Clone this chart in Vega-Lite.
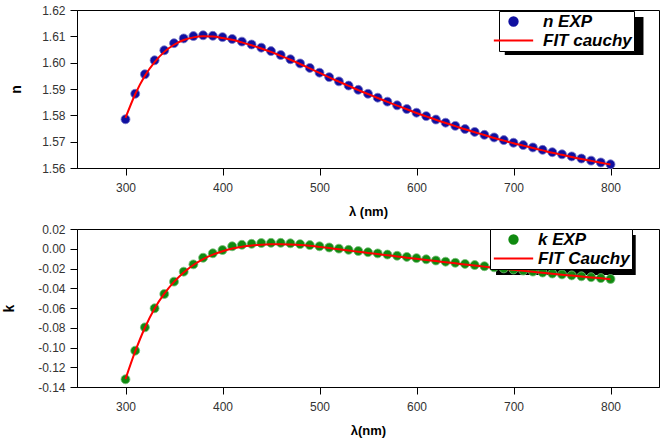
{
  "$schema": "https://vega.github.io/schema/vega-lite/v6.json",
  "background": "white",
  "padding": {"left": 1, "top": 3, "right": 2, "bottom": 2},
  "spacing": 3,
  "config": {
    "font": "Liberation Sans",
    "view": {"stroke": "#000", "strokeWidth": 1},
    "axis": {
      "grid": false,
      "domainColor": "#000",
      "tickColor": "#000",
      "tickSize": 7,
      "labelFont": "Liberation Sans",
      "labelFontSize": 12,
      "labelColor": "#333",
      "labelPadding": 5,
      "labelOverlap": false,
      "titleFont": "Liberation Sans",
      "titleFontSize": 14,
      "titleFontWeight": "bold",
      "titleColor": "#000"
    },
    "axisX": {"labelPadding": 7, "titlePadding": 12},
    "legend": {
      "labelFont": "Liberation Sans",
      "labelFontSize": 17,
      "labelFontStyle": "italic",
      "labelFontWeight": "bold",
      "labelColor": "#000",
      "fillColor": "white",
      "strokeColor": "#000",
      "padding": 2,
      "rowPadding": 1,
      "symbolSize": 70
    }
  },
  "resolve": {"scale": {"color": "independent", "y": "independent"}, "legend": {"color": "independent"}},
  "vconcat": [
    {
      "width": 582,
      "height": 158,
      "data": {"values": [
        {"lambda": 300, "n EXP": 1.5785, "FIT cauchy": 1.5790},
        {"lambda": 310, "n EXP": 1.5882, "FIT cauchy": 1.5880},
        {"lambda": 320, "n EXP": 1.5956, "FIT cauchy": 1.5950},
        {"lambda": 330, "n EXP": 1.6009, "FIT cauchy": 1.6002},
        {"lambda": 340, "n EXP": 1.6047, "FIT cauchy": 1.6041},
        {"lambda": 350, "n EXP": 1.6074, "FIT cauchy": 1.6068},
        {"lambda": 360, "n EXP": 1.6092, "FIT cauchy": 1.6086},
        {"lambda": 370, "n EXP": 1.6101, "FIT cauchy": 1.6096},
        {"lambda": 380, "n EXP": 1.6104, "FIT cauchy": 1.6100},
        {"lambda": 390, "n EXP": 1.6102, "FIT cauchy": 1.6099},
        {"lambda": 400, "n EXP": 1.6097, "FIT cauchy": 1.6094},
        {"lambda": 410, "n EXP": 1.6090, "FIT cauchy": 1.6087},
        {"lambda": 420, "n EXP": 1.6080, "FIT cauchy": 1.6077},
        {"lambda": 430, "n EXP": 1.6069, "FIT cauchy": 1.6066},
        {"lambda": 440, "n EXP": 1.6057, "FIT cauchy": 1.6054},
        {"lambda": 450, "n EXP": 1.6044, "FIT cauchy": 1.6041},
        {"lambda": 460, "n EXP": 1.6029, "FIT cauchy": 1.6026},
        {"lambda": 470, "n EXP": 1.6013, "FIT cauchy": 1.6011},
        {"lambda": 480, "n EXP": 1.5997, "FIT cauchy": 1.5995},
        {"lambda": 490, "n EXP": 1.5980, "FIT cauchy": 1.5978},
        {"lambda": 500, "n EXP": 1.5962, "FIT cauchy": 1.5961},
        {"lambda": 510, "n EXP": 1.5945, "FIT cauchy": 1.5944},
        {"lambda": 520, "n EXP": 1.5929, "FIT cauchy": 1.5928},
        {"lambda": 530, "n EXP": 1.5913, "FIT cauchy": 1.5912},
        {"lambda": 540, "n EXP": 1.5897, "FIT cauchy": 1.5896},
        {"lambda": 550, "n EXP": 1.5882, "FIT cauchy": 1.5881},
        {"lambda": 560, "n EXP": 1.5867, "FIT cauchy": 1.5866},
        {"lambda": 570, "n EXP": 1.5852, "FIT cauchy": 1.5851},
        {"lambda": 580, "n EXP": 1.5838, "FIT cauchy": 1.5837},
        {"lambda": 590, "n EXP": 1.5824, "FIT cauchy": 1.5823},
        {"lambda": 600, "n EXP": 1.5810, "FIT cauchy": 1.5809},
        {"lambda": 610, "n EXP": 1.5797, "FIT cauchy": 1.5796},
        {"lambda": 620, "n EXP": 1.5784, "FIT cauchy": 1.5783},
        {"lambda": 630, "n EXP": 1.5772, "FIT cauchy": 1.5771},
        {"lambda": 640, "n EXP": 1.5760, "FIT cauchy": 1.5759},
        {"lambda": 650, "n EXP": 1.5748, "FIT cauchy": 1.5747},
        {"lambda": 660, "n EXP": 1.5737, "FIT cauchy": 1.5736},
        {"lambda": 670, "n EXP": 1.5726, "FIT cauchy": 1.5725},
        {"lambda": 680, "n EXP": 1.5716, "FIT cauchy": 1.5714},
        {"lambda": 690, "n EXP": 1.5706, "FIT cauchy": 1.5704},
        {"lambda": 700, "n EXP": 1.5696, "FIT cauchy": 1.5694},
        {"lambda": 710, "n EXP": 1.5687, "FIT cauchy": 1.5685},
        {"lambda": 720, "n EXP": 1.5678, "FIT cauchy": 1.5676},
        {"lambda": 730, "n EXP": 1.5669, "FIT cauchy": 1.5667},
        {"lambda": 740, "n EXP": 1.5660, "FIT cauchy": 1.5658},
        {"lambda": 750, "n EXP": 1.5652, "FIT cauchy": 1.5650},
        {"lambda": 760, "n EXP": 1.5644, "FIT cauchy": 1.5642},
        {"lambda": 770, "n EXP": 1.5636, "FIT cauchy": 1.5634},
        {"lambda": 780, "n EXP": 1.5628, "FIT cauchy": 1.5627},
        {"lambda": 790, "n EXP": 1.5621, "FIT cauchy": 1.5620},
        {"lambda": 800, "n EXP": 1.5614, "FIT cauchy": 1.5613}
      ]},
      "transform": [{"fold": ["n EXP", "FIT cauchy"], "as": ["series", "value"]}],
      "encoding": {
        "x": {
          "field": "lambda", "type": "quantitative",
          "scale": {"domain": [250, 850], "nice": false, "zero": false},
          "axis": {"values": [300, 400, 500, 600, 700, 800], "title": "λ (nm)", "titleFontSize": 13}
        },
        "y": {
          "field": "value", "type": "quantitative",
          "scale": {"domain": [1.56, 1.62], "nice": false, "zero": false},
          "axis": {"values": [1.56, 1.57, 1.58, 1.59, 1.6, 1.61, 1.62], "format": ".2f", "title": "n", "titleX": -54, "titleY": 79}
        }
      },
      "layer": [
        {
          "transform": [{"filter": "datum.lambda === 300 && datum.series === 'n EXP'"}],
          "mark": {"type": "rect", "fill": "#000"},
          "encoding": {
            "x": {"datum": 691, "type": "quantitative"}, "x2": {"datum": 834},
            "y": {"datum": 1.6173, "type": "quantitative"}, "y2": {"datum": 1.6029}
          }
        },
        {
          "transform": [{"filter": "datum.series === 'n EXP'"}],
          "mark": {"type": "point", "filled": true, "size": 80, "opacity": 1, "stroke": "#7a7ac8", "strokeWidth": 0.8},
          "encoding": {
            "color": {
              "field": "series", "type": "nominal",
              "scale": {"domain": ["n EXP", "FIT cauchy"], "range": ["#1010a0", "#ff0000"]},
              "legend": {
                "title": null, "orient": "none", "legendX": 422, "legendY": 1,
                "symbolOffset": 4, "labelOffset": 21,
                "encode": {"symbols": {"update": {
                  "shape": {"signal": "datum.value === 'FIT cauchy' ? 'M-4.7,0H4.7' : 'circle'"},
                  "fill": {"signal": "datum.value === 'FIT cauchy' ? 'transparent' : '#1010a0'"},
                  "stroke": {"signal": "datum.value === 'FIT cauchy' ? '#ff0000' : 'transparent'"},
                  "strokeWidth": {"value": 2},
                  "size": {"value": 70},
                  "opacity": {"value": 1}
                }}}
              }
            }
          }
        },
        {
          "transform": [{"filter": "datum.series === 'FIT cauchy'"}],
          "mark": {"type": "line", "strokeWidth": 2, "interpolate": "monotone"},
          "encoding": {
            "color": {
              "field": "series", "type": "nominal",
              "scale": {"domain": ["n EXP", "FIT cauchy"], "range": ["#1010a0", "#ff0000"]},
              "legend": {
                "title": null, "orient": "none", "legendX": 422, "legendY": 1,
                "symbolOffset": 4, "labelOffset": 21,
                "encode": {"symbols": {"update": {
                  "shape": {"signal": "datum.value === 'FIT cauchy' ? 'M-4.7,0H4.7' : 'circle'"},
                  "fill": {"signal": "datum.value === 'FIT cauchy' ? 'transparent' : '#1010a0'"},
                  "stroke": {"signal": "datum.value === 'FIT cauchy' ? '#ff0000' : 'transparent'"},
                  "strokeWidth": {"value": 2},
                  "size": {"value": 70},
                  "opacity": {"value": 1}
                }}}
              }
            }
          }
        },
        {
          "data": {"values": [{}]},
          "mark": {"type": "text", "text": "a)", "font": "Liberation Serif", "fontSize": 25, "fontWeight": "bold", "color": "#2aa84a", "align": "left", "baseline": "middle"},
          "encoding": {"x": {"datum": 257}, "y": {"datum": 1.6109}}
        }
      ]
    },
    {
      "width": 582,
      "height": 158,
      "data": {"values": [
        {"lambda": 300, "k EXP": -0.1322, "FIT Cauchy": -0.1320},
        {"lambda": 310, "k EXP": -0.1032, "FIT Cauchy": -0.1040},
        {"lambda": 320, "k EXP": -0.0796, "FIT Cauchy": -0.0800},
        {"lambda": 330, "k EXP": -0.0603, "FIT Cauchy": -0.0605},
        {"lambda": 340, "k EXP": -0.0458, "FIT Cauchy": -0.0455},
        {"lambda": 350, "k EXP": -0.0333, "FIT Cauchy": -0.0335},
        {"lambda": 360, "k EXP": -0.0232, "FIT Cauchy": -0.0240},
        {"lambda": 370, "k EXP": -0.0158, "FIT Cauchy": -0.0165},
        {"lambda": 380, "k EXP": -0.0091, "FIT Cauchy": -0.0105},
        {"lambda": 390, "k EXP": -0.0046, "FIT Cauchy": -0.0060},
        {"lambda": 400, "k EXP": -0.0013, "FIT Cauchy": -0.0025},
        {"lambda": 410, "k EXP": 0.0025, "FIT Cauchy": 0.0002},
        {"lambda": 420, "k EXP": 0.0040, "FIT Cauchy": 0.0020},
        {"lambda": 430, "k EXP": 0.0050, "FIT Cauchy": 0.0033},
        {"lambda": 440, "k EXP": 0.0058, "FIT Cauchy": 0.0041},
        {"lambda": 450, "k EXP": 0.0060, "FIT Cauchy": 0.0045},
        {"lambda": 460, "k EXP": 0.0060, "FIT Cauchy": 0.0046},
        {"lambda": 470, "k EXP": 0.0055, "FIT Cauchy": 0.0043},
        {"lambda": 480, "k EXP": 0.0047, "FIT Cauchy": 0.0038},
        {"lambda": 490, "k EXP": 0.0037, "FIT Cauchy": 0.0030},
        {"lambda": 500, "k EXP": 0.0025, "FIT Cauchy": 0.0019},
        {"lambda": 510, "k EXP": 0.0013, "FIT Cauchy": 0.0007},
        {"lambda": 520, "k EXP": 0.0001, "FIT Cauchy": -0.0006},
        {"lambda": 530, "k EXP": -0.0011, "FIT Cauchy": -0.0018},
        {"lambda": 540, "k EXP": -0.0023, "FIT Cauchy": -0.0030},
        {"lambda": 550, "k EXP": -0.0035, "FIT Cauchy": -0.0042},
        {"lambda": 560, "k EXP": -0.0047, "FIT Cauchy": -0.0054},
        {"lambda": 570, "k EXP": -0.0059, "FIT Cauchy": -0.0066},
        {"lambda": 580, "k EXP": -0.0071, "FIT Cauchy": -0.0078},
        {"lambda": 590, "k EXP": -0.0083, "FIT Cauchy": -0.0090},
        {"lambda": 600, "k EXP": -0.0095, "FIT Cauchy": -0.0102},
        {"lambda": 610, "k EXP": -0.0107, "FIT Cauchy": -0.0114},
        {"lambda": 620, "k EXP": -0.0119, "FIT Cauchy": -0.0125},
        {"lambda": 630, "k EXP": -0.0131, "FIT Cauchy": -0.0137},
        {"lambda": 640, "k EXP": -0.0142, "FIT Cauchy": -0.0148},
        {"lambda": 650, "k EXP": -0.0154, "FIT Cauchy": -0.0159},
        {"lambda": 660, "k EXP": -0.0165, "FIT Cauchy": -0.0170},
        {"lambda": 670, "k EXP": -0.0177, "FIT Cauchy": -0.0181},
        {"lambda": 680, "k EXP": -0.0188, "FIT Cauchy": -0.0192},
        {"lambda": 690, "k EXP": -0.0199, "FIT Cauchy": -0.0203},
        {"lambda": 700, "k EXP": -0.0210, "FIT Cauchy": -0.0213},
        {"lambda": 710, "k EXP": -0.0221, "FIT Cauchy": -0.0224},
        {"lambda": 720, "k EXP": -0.0231, "FIT Cauchy": -0.0234},
        {"lambda": 730, "k EXP": -0.0241, "FIT Cauchy": -0.0244},
        {"lambda": 740, "k EXP": -0.0251, "FIT Cauchy": -0.0253},
        {"lambda": 750, "k EXP": -0.0260, "FIT Cauchy": -0.0263},
        {"lambda": 760, "k EXP": -0.0270, "FIT Cauchy": -0.0272},
        {"lambda": 770, "k EXP": -0.0279, "FIT Cauchy": -0.0281},
        {"lambda": 780, "k EXP": -0.0288, "FIT Cauchy": -0.0290},
        {"lambda": 790, "k EXP": -0.0297, "FIT Cauchy": -0.0299},
        {"lambda": 800, "k EXP": -0.0306, "FIT Cauchy": -0.0308}
      ]},
      "transform": [{"fold": ["k EXP", "FIT Cauchy"], "as": ["series", "value"]}],
      "encoding": {
        "x": {
          "field": "lambda", "type": "quantitative",
          "scale": {"domain": [250, 850], "nice": false, "zero": false},
          "axis": {"values": [300, 400, 500, 600, 700, 800], "title": "λ(nm)", "titleFontSize": 13}
        },
        "y": {
          "field": "value", "type": "quantitative",
          "scale": {"domain": [-0.14, 0.02], "nice": false, "zero": false},
          "axis": {"values": [-0.14, -0.12, -0.1, -0.08, -0.06, -0.04, -0.02, 0, 0.02], "format": ".2f", "labelExpr": "replace(datum.label, '−', '-')", "title": "k", "titleX": -61, "titleY": 79}
        }
      },
      "layer": [
        {
          "transform": [{"filter": "datum.lambda === 300 && datum.series === 'k EXP'"}],
          "mark": {"type": "rect", "fill": "#000"},
          "encoding": {
            "x": {"datum": 682, "type": "quantitative"}, "x2": {"datum": 826},
            "y": {"datum": 0.0139, "type": "quantitative"}, "y2": {"datum": -0.0266}
          }
        },
        {
          "transform": [{"filter": "datum.series === 'k EXP'"}],
          "mark": {"type": "point", "filled": true, "size": 80, "opacity": 1, "stroke": "#7ac07a", "strokeWidth": 0.8},
          "encoding": {
            "color": {
              "field": "series", "type": "nominal",
              "scale": {"domain": ["k EXP", "FIT Cauchy"], "range": ["#108a10", "#ff0000"]},
              "legend": {
                "title": null, "orient": "none", "legendX": 413, "legendY": 0,
                "symbolOffset": 13, "labelOffset": 16,
                "encode": {"symbols": {"update": {
                  "shape": {"signal": "datum.value === 'FIT Cauchy' ? 'M-4.7,0H4.7' : 'circle'"},
                  "fill": {"signal": "datum.value === 'FIT Cauchy' ? 'transparent' : '#108a10'"},
                  "stroke": {"signal": "datum.value === 'FIT Cauchy' ? '#ff0000' : 'transparent'"},
                  "strokeWidth": {"value": 2},
                  "size": {"value": 70},
                  "opacity": {"value": 1}
                }}}
              }
            }
          }
        },
        {
          "transform": [{"filter": "datum.series === 'FIT Cauchy'"}],
          "mark": {"type": "line", "strokeWidth": 2, "interpolate": "monotone"},
          "encoding": {
            "color": {
              "field": "series", "type": "nominal",
              "scale": {"domain": ["k EXP", "FIT Cauchy"], "range": ["#108a10", "#ff0000"]},
              "legend": {
                "title": null, "orient": "none", "legendX": 413, "legendY": 0,
                "symbolOffset": 13, "labelOffset": 16,
                "encode": {"symbols": {"update": {
                  "shape": {"signal": "datum.value === 'FIT Cauchy' ? 'M-4.7,0H4.7' : 'circle'"},
                  "fill": {"signal": "datum.value === 'FIT Cauchy' ? 'transparent' : '#108a10'"},
                  "stroke": {"signal": "datum.value === 'FIT Cauchy' ? '#ff0000' : 'transparent'"},
                  "strokeWidth": {"value": 2},
                  "size": {"value": 70},
                  "opacity": {"value": 1}
                }}}
              }
            }
          }
        },
        {
          "data": {"values": [{}]},
          "mark": {"type": "text", "text": "b)", "font": "Liberation Serif", "fontSize": 25, "fontWeight": "bold", "color": "#2aa84a", "align": "left", "baseline": "middle"},
          "encoding": {"x": {"datum": 261}, "y": {"datum": -0.0053}}
        }
      ]
    }
  ]
}
